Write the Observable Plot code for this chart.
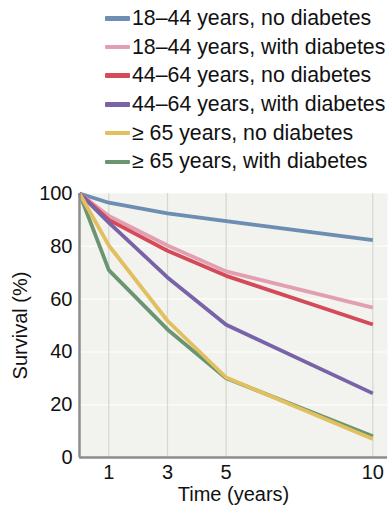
<!DOCTYPE html>
<html>
<head>
<meta charset="utf-8">
<script src="https://cdn.jsdelivr.net/npm/d3@7"></script>
<script src="https://cdn.jsdelivr.net/npm/@observablehq/plot@0.6"></script>
<style>
  body { margin: 0; background: #fff; font-family: "Liberation Sans", Arial, Helvetica, sans-serif; }
  #wrap { position: relative; width: 389px; height: 505px; overflow: hidden; }
  #legend { position: absolute; left: 105px; top: 4px; }
  .row { display: flex; align-items: center; height: 28.7px; font-size: 21.3px; color: #111; white-space: nowrap; }
  .sw { width: 25px; height: 4.5px; margin-right: 2px; border-radius: 1px; }
  #chart { position: absolute; left: 0; top: 180px; }
</style>
</head>
<body>
<div id="wrap">
  <div id="legend"></div>
  <div id="chart"></div>
</div>
<script>
const years = [0, 1, 3, 5, 10];
const seriesNames = [
  "18–44 years, no diabetes",
  "18–44 years, with diabetes",
  "44–64 years, no diabetes",
  "44–64 years, with diabetes",
  "≥ 65 years, no diabetes",
  "≥ 65 years, with diabetes"
];
const colors = ["#6d8db3", "#e39fb2", "#d34a58", "#7963a8", "#e2c060", "#6b9570"];
const young_noDiab = [100, 96.5, 92.5, 89.5, 82.3];
const young_diab   = [100, 91.5, 80.3, 70.5, 56.8];
const mid_noDiab   = [100, 90, 78.3, 68.8, 50.4];
const mid_diab     = [100, 89, 68.2, 50.3, 24.3];
const old_noDiab   = [100, 80.3, 51.8, 30.3, 7];
const old_diab     = [100, 71, 48.5, 30, 8];
const seriesValues = [young_noDiab, young_diab, mid_noDiab, mid_diab, old_noDiab, old_diab];
const xTicks = [1, 3, 5, 10];
const yTicks = [0, 20, 40, 60, 80, 100];
const yGrid = [20, 40, 60, 80];

// legend
const legend = document.getElementById("legend");
seriesNames.forEach((name, i) => {
  const row = document.createElement("div");
  row.className = "row";
  const sw = document.createElement("span");
  sw.className = "sw";
  sw.style.background = colors[i];
  const t = document.createElement("span");
  t.textContent = name;
  row.appendChild(sw); row.appendChild(t);
  legend.appendChild(row);
});

const data = [];
seriesNames.forEach((name, i) => {
  years.forEach((yr, j) => data.push({series: name, time: yr, survival: seriesValues[i][j]}));
});
// drawing order: green under yellow
const drawOrder = [0, 1, 2, 3, 5, 4].map(i => seriesNames[i]);

const chart = Plot.plot({
  width: 389,
  height: 325,
  marginLeft: 79,
  marginRight: 2,
  marginTop: 13,
  marginBottom: 48,
  style: {fontFamily: '"Liberation Sans", Arial, Helvetica, sans-serif', fontSize: "20px", color: "#111", background: "transparent"},
  x: {domain: [0, 10.5]},
  y: {domain: [0, 100]},
  color: {domain: seriesNames, range: colors},
  marks: [
    Plot.frame({fill: "#f2f2ee", stroke: null}),
    Plot.ruleY(yGrid, {stroke: "#fbfbf9", strokeWidth: 1.5}),
    Plot.ruleX(xTicks, {stroke: "#d6d6d2", strokeWidth: 1.2}),
    Plot.axisX(xTicks, {tickSize: 0, tickPadding: 7, label: null, fontSize: 20}),
    Plot.axisX({tickSize: 0, ticks: [], label: "Time (years)", labelAnchor: "center", labelArrow: "none", labelOffset: 43, fontSize: 20}),
    Plot.axisY(yTicks, {tickSize: 0, tickPadding: 7, label: null, fontSize: 20}),
    Plot.axisY({tickSize: 0, ticks: [], label: "Survival (%)", labelAnchor: "center", labelArrow: "none", labelOffset: 67, fontSize: 20}),
    ...drawOrder.map(name => Plot.line(data.filter(d => d.series === name), {x: "time", y: "survival", stroke: "series", strokeWidth: 3.8, strokeLinejoin: "round", strokeLinecap: "butt"})),
    Plot.ruleX([0], {stroke: "#8c8c8a", strokeWidth: 2.5}),
    Plot.ruleY([0], {stroke: "#8c8c8a", strokeWidth: 2.5})
  ]
});
document.getElementById("chart").appendChild(chart);
</script>
</body>
</html>
